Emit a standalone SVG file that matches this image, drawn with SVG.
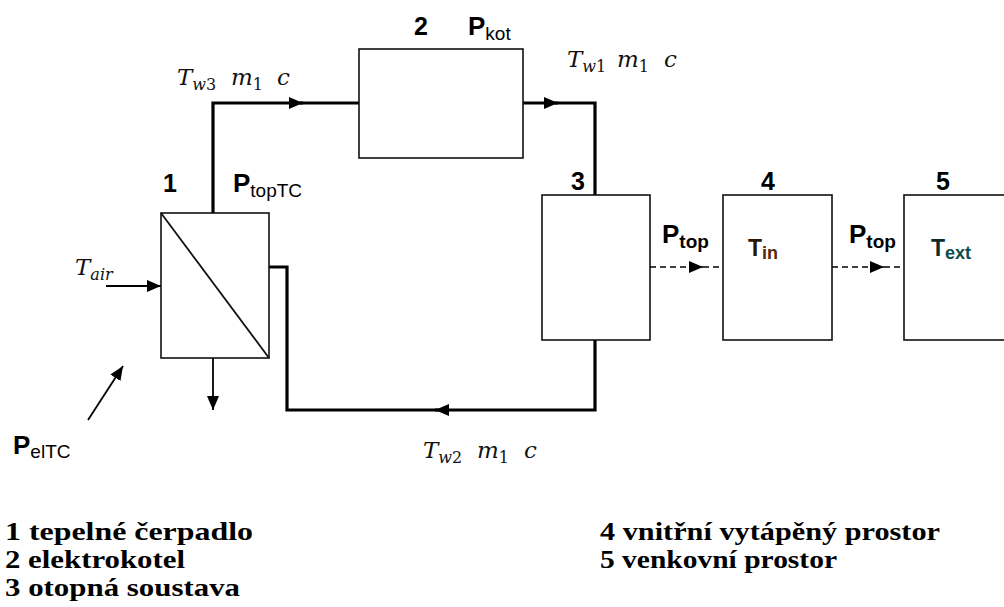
<svg xmlns="http://www.w3.org/2000/svg" width="1004" height="607" viewBox="0 0 1004 607">
<style>
.box{fill:#fff;stroke:#111;stroke-width:1.6}
.pipe{fill:none;stroke:#000;stroke-width:3.2}
.thin{fill:none;stroke:#000;stroke-width:1.8}
.dash{fill:none;stroke:#000;stroke-width:1.6;stroke-dasharray:6 4}
.num{font-family:"Liberation Sans",Arial,sans-serif;font-weight:bold;font-size:25px;fill:#000}
.P{font-family:"Liberation Sans",Arial,sans-serif;font-weight:bold;font-size:26px;fill:#000}
.sub{font-family:"Liberation Sans",Arial,sans-serif;font-size:19px;fill:#000}
.m{font-family:"DejaVu Serif","Liberation Serif",serif;font-style:italic;font-size:23px;fill:#111}
.ms{font-family:"DejaVu Serif","Liberation Serif",serif;font-style:italic;font-size:16px;fill:#111}
.md{font-family:"DejaVu Serif","Liberation Serif",serif;font-size:16px;fill:#111}
.leg{font-family:"Liberation Serif","Times New Roman",serif;font-weight:bold;font-size:26px;fill:#000}
</style>
<defs>
<marker id="arr" markerUnits="userSpaceOnUse" markerWidth="14" markerHeight="12" refX="14" refY="6" orient="auto">
<path d="M0,0 L14,6 L0,12 z" fill="#000"/>
</marker>
</defs>
<g id="connectors">
<path class="pipe" d="M213,213 V103 H303" marker-end="url(#arr)"/>
<path class="pipe" d="M300,103 H359"/>
<path class="pipe" d="M523,103 H558" marker-end="url(#arr)"/>
<path class="pipe" d="M555,103 H595 V195"/>
<path class="pipe" d="M595,340 V410 H435" marker-end="url(#arr)"/>
<path class="pipe" d="M438,410 H287 V267 H269"/>
<path class="thin" d="M106,286 H161" marker-end="url(#arr)"/>
<path class="thin" d="M213,358 V410" marker-end="url(#arr)"/>
<path class="thin" d="M88,420 L123,366" marker-end="url(#arr)"/>
<path class="dash" d="M650,267 H703" marker-end="url(#arr)"/>
<path class="dash" d="M703,267 H723"/>
<path class="dash" d="M832,267 H884" marker-end="url(#arr)"/>
<path class="dash" d="M884,267 H904"/>
</g>
<g id="node1">
<rect class="box" x="161" y="213" width="108" height="145"/>
<line x1="161" y1="213" x2="269" y2="358" stroke="#111" stroke-width="1.8"/>
<text class="num" x="170" y="192" text-anchor="middle">1</text>
<text x="233" y="192"><tspan class="P">P</tspan><tspan class="sub" dy="5">topTC</tspan></text>
</g>
<g id="node2">
<rect class="box" x="359" y="49" width="164" height="109"/>
<text class="num" x="421" y="35" text-anchor="middle">2</text>
<text x="468" y="35"><tspan class="P">P</tspan><tspan class="sub" dy="5">kot</tspan></text>
</g>
<g id="node3">
<rect class="box" x="542" y="195" width="108" height="145"/>
<text class="num" x="578" y="190" text-anchor="middle">3</text>
</g>
<g id="node4">
<rect class="box" x="723" y="195" width="109" height="145"/>
<text class="num" x="768" y="190" text-anchor="middle">4</text>
<text x="748" y="256" font-family="Liberation Sans,Arial,sans-serif" font-weight="bold"><tspan font-size="23" fill="#2a1505">T</tspan><tspan font-size="18" fill="#5a2606" dy="3">in</tspan></text>
</g>
<g id="node5">
<rect class="box" x="904" y="195" width="110" height="145"/>
<text class="num" x="943" y="190" text-anchor="middle">5</text>
<text x="931" y="256" font-family="Liberation Sans,Arial,sans-serif" font-weight="bold"><tspan font-size="23" fill="#0b2a2a">T</tspan><tspan font-size="18" fill="#0d4d4d" dy="3">ext</tspan></text>
</g>
<g id="labels">
<text x="662" y="243"><tspan class="P">P</tspan><tspan class="sub" font-weight="bold" dy="5">top</tspan></text>
<text x="849" y="243"><tspan class="P">P</tspan><tspan class="sub" font-weight="bold" dy="5">top</tspan></text>
<text x="13" y="454"><tspan class="P" font-size="28">P</tspan><tspan class="sub" dy="4">elTC</tspan></text>
<text x="75" y="275"><tspan class="m">T</tspan><tspan class="ms" dy="5">air</tspan></text>
<text x="177" y="85"><tspan class="m">T</tspan><tspan class="ms" dy="5">w</tspan><tspan class="md">3</tspan><tspan class="m" x="231" dy="-5">m</tspan><tspan class="md" dy="5">1</tspan><tspan class="m" x="277" dy="-5">c</tspan></text>
<text x="567" y="67"><tspan class="m">T</tspan><tspan class="ms" dy="5">w</tspan><tspan class="md">1</tspan><tspan class="m" x="617" dy="-5">m</tspan><tspan class="md" dy="5">1</tspan><tspan class="m" x="664" dy="-5">c</tspan></text>
<text x="423" y="458"><tspan class="m">T</tspan><tspan class="ms" dy="5">w</tspan><tspan class="md">2</tspan><tspan class="m" x="477" dy="-5">m</tspan><tspan class="md" dy="5">1</tspan><tspan class="m" x="524" dy="-5">c</tspan></text>
</g>
<g id="legend">
<text class="leg" x="5" y="540" textLength="248" lengthAdjust="spacingAndGlyphs">1 tepelné čerpadlo</text>
<text class="leg" x="5" y="568" textLength="180" lengthAdjust="spacingAndGlyphs">2 elektrokotel</text>
<text class="leg" x="5" y="596" textLength="235" lengthAdjust="spacingAndGlyphs">3 otopná soustava</text>
<text class="leg" x="600" y="540" textLength="340" lengthAdjust="spacingAndGlyphs">4 vnitřní vytápěný prostor</text>
<text class="leg" x="600" y="568" textLength="237" lengthAdjust="spacingAndGlyphs">5 venkovní prostor</text>
</g>
</svg>
